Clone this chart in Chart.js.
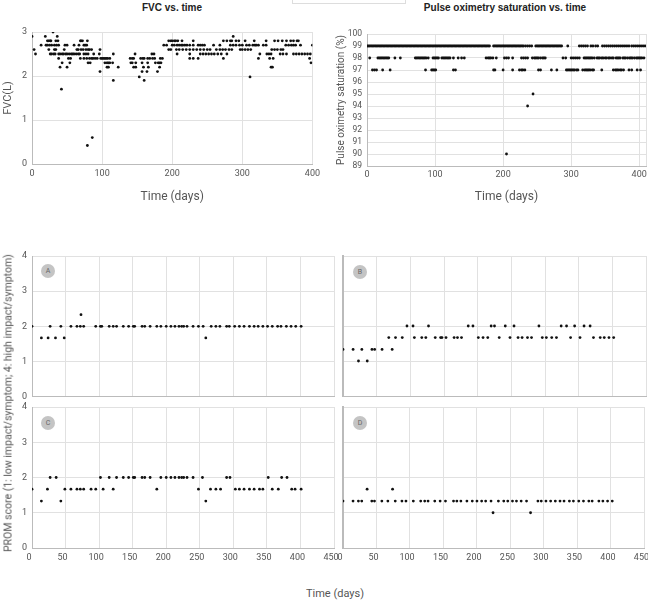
<!DOCTYPE html>
<html>
<head>
<meta charset="utf-8">
<script src="https://cdn.jsdelivr.net/npm/chart.js@4.4.1/dist/chart.umd.min.js"></script>
<style>
  html, body { margin: 0; padding: 0; background: #fff; width: 648px; height: 600px; overflow: hidden; position: relative; }
  canvas { position: absolute; }
  .title { position: absolute; font: bold 10px "Liberation Sans", Arial, sans-serif; color: #222; text-align: center; white-space: nowrap; }
  .lbl { position: absolute; font: 11px Roboto, "Liberation Sans", sans-serif; color: #555; white-space: nowrap; }
  .badge { position: absolute; width: 14px; height: 14px; border-radius: 50%; background: #c4c4c4; color: #666;
           font: 7px Roboto, sans-serif; line-height: 14px; text-align: center; }
</style>
</head>
<body>
<div style="position:absolute;left:292px;top:-1px;width:112px;height:3px;border:1px solid #ddd;"></div>
<div class="title" style="left:72px;top:2px;width:200px;">FVC vs. time</div>
<div class="title" style="left:405px;top:2px;width:200px;">Pulse oximetry saturation vs. time</div>

<canvas id="fvc" width="324" height="215" style="left:0;top:0"></canvas>
<canvas id="spo2" width="338" height="215" style="left:318px;top:0"></canvas>
<canvas id="pa" width="346" height="167" style="left:0;top:240px"></canvas>
<canvas id="pb" width="323" height="160" style="left:333px;top:240px"></canvas>
<canvas id="pc" width="346" height="186" style="left:0;top:392px"></canvas>
<canvas id="pd" width="323" height="186" style="left:333px;top:392px"></canvas>

<div class="badge" style="left:41px;top:264px;">A</div>
<div class="badge" style="left:353px;top:265px;">B</div>
<div class="badge" style="left:41px;top:416px;">C</div>
<div class="badge" style="left:353px;top:416px;">D</div>

<div class="lbl" style="left:8px;top:403px;font-size:10.5px;transform:translate(-50%,-50%) rotate(-90deg);">PROM score (1: low impact/symptom; 4: high impact/symptom)</div>
<div class="lbl" style="left:335px;top:593px;transform:translate(-50%,-50%);">Time (days)</div>

<script>
// FVC (L): days listed per measured level
const fvc300 = [30];
const fvc290 = [0, 19, 36, 287];
const fvc280 = [22, 24, 26, 27, 34, 37, 69, 70, 72, 79, 195, 198, 200, 203, 205, 208, 214, 230, 273, 278, 283, 285, 291, 295, 304, 317, 334, 346, 351, 357, 363, 369, 373, 378, 380];
const fvc270 = [13, 20, 22, 25, 28, 32, 35, 38, 47, 50, 60, 67, 74, 76, 78, 188, 192, 200, 203, 207, 210, 213, 215, 218, 221, 225, 230, 237, 240, 243, 246, 259, 268, 283, 287, 291, 296, 300, 306, 310, 315, 318, 320, 323, 330, 334, 362, 366, 370, 373, 376, 383, 400];
const fvc260 = [3, 24, 32, 34, 46, 64, 66, 70, 73, 77, 80, 82, 85, 97, 195, 198, 206, 210, 215, 220, 225, 230, 235, 240, 245, 250, 254, 263, 268, 272, 276, 281, 285, 297, 300, 304, 308, 312, 342, 346, 350, 355, 358];
const fvc250 = [5, 26, 28, 31, 33, 38, 40, 43, 45, 48, 50, 53, 56, 58, 60, 63, 66, 68, 74, 77, 80, 88, 96, 116, 147, 171, 174, 207, 225, 240, 244, 248, 252, 256, 260, 265, 270, 278, 325, 335, 338, 341, 354, 358, 363, 373, 377, 381, 385, 389, 393, 397];
const fvc240 = [38, 52, 55, 69, 74, 78, 82, 85, 87, 90, 93, 98, 100, 102, 104, 106, 108, 111, 140, 143, 145, 155, 158, 160, 165, 168, 172, 175, 183, 186, 225, 230, 237, 273, 323, 339, 344, 396];
const fvc230 = [43, 54, 80, 83, 104, 107, 109, 111, 115, 141, 143, 148, 157, 165, 176, 180, 182, 184, 398];
const fvc220 = [40, 50, 107, 109, 123, 145, 148, 159, 166, 182, 341, 343];
const fvc210 = [97, 157, 164, 179];
const fvc198 = [153, 311];
const fvc190 = [116, 160];
const fvc170 = [42];
const fvc060 = [86];
const fvc042 = [79];

// Pulse oximetry saturation (%): days per level, plus the low readings
const spo2At99 = [0, 2, 4, 6, 8, 10, 12, 14, 16, 18, 20, 22, 24, 26, 28, 30, 32, 34, 36, 38, 40, 42, 44, 46, 48, 50, 52, 54, 56, 58, 60, 62, 64, 66, 68, 70, 72, 74, 76, 78, 80, 82, 84, 86, 88, 90, 92, 94, 96, 98, 100, 102, 104, 106, 108, 110, 112, 114, 116, 118, 120, 122, 124, 126, 128, 130, 132, 134, 136, 138, 140, 142, 144, 146, 148, 150, 152, 154, 156, 158, 160, 162, 164, 166, 168, 170, 172, 174, 176, 178, 180,
  186, 188, 190, 192, 194, 196, 198, 200, 202, 204, 206, 208, 210, 212, 214, 216, 218, 220, 222, 224, 226, 228, 230,
  233, 236, 239, 242, 248, 250, 252, 254, 256, 258, 260, 262, 264, 266, 268, 270, 272, 274, 276, 278, 280, 282, 284, 286,
  295, 312, 315, 318, 321, 324, 329, 332, 336, 339, 346, 349, 352, 355, 358, 361, 364, 367, 370, 373, 376, 379, 382, 385, 389, 392, 395, 398, 401, 404, 407, 410];
const spo2At98 = [4, 16, 18, 20, 22, 24, 26, 28, 30, 32, 41, 49, 71, 73, 75, 77, 79, 81, 83, 85, 87, 90, 97, 99, 101, 103, 105, 110, 112, 114, 116, 118, 120, 122, 127, 134, 139, 143, 175, 178, 180, 182, 185, 190, 202, 205, 208, 214, 227, 230, 233, 236, 243, 246, 248, 250, 252, 255, 258, 260, 262, 288, 292, 300, 303, 306, 309, 312, 319, 321, 323, 325, 327, 329, 331, 334, 338, 340, 342, 345, 347, 350, 352, 355, 357, 360, 362, 366, 368, 370, 372, 376, 378, 380, 383, 386, 388, 390, 393, 396, 398, 400, 402, 404, 407];
const spo2At97 = [8, 11, 14, 23, 34, 86, 95, 97, 99, 101, 127, 130, 186, 188, 200, 214, 224, 227, 229, 232, 252, 255, 271, 279, 293, 295, 297, 299, 301, 303, 305, 308, 310, 317, 320, 322, 324, 326, 328, 331, 333, 345, 362, 365, 367, 369, 372, 374, 377, 385, 389, 397, 402];
const spo2Low = [[205, 90], [236, 94], [244, 95]];
const spo2XTicks = [0, 100, 200, 300, 400, 410];

// PROM scores per panel, days per score level
const promA200 = [0, 27, 43, 58, 67, 72, 77, 95, 102, 104, 115, 121, 126, 136, 144, 151, 153, 164, 168, 176, 186, 192, 200, 207, 213, 219, 223, 226, 231, 240, 248, 255, 267, 274, 280, 290, 294, 302, 309, 316, 324, 331, 337, 344, 351, 358, 366, 371, 379, 386, 393, 401];
const promA167 = [14, 24, 35, 48, 259];
const promA233 = [73];

const promB200 = [95, 104, 127, 186, 193, 220, 225, 241, 254, 291, 324, 332, 344, 358, 367];
const promB167 = [68, 78, 88, 106, 117, 123, 137, 145, 147, 153, 165, 170, 176, 201, 208, 215, 232, 248, 260, 266, 274, 280, 296, 302, 310, 317, 338, 352, 372, 382, 388, 395, 402];
const promB133 = [0, 15, 28, 43, 47, 58, 73];
const promB100 = [23, 36];

const promC200 = [27, 36, 102, 115, 126, 136, 144, 151, 153, 164, 168, 176, 192, 200, 207, 213, 219, 223, 226, 231, 240, 254, 290, 295, 352, 372, 380];
const promC167 = [0, 23, 49, 58, 67, 72, 77, 88, 95, 106, 121, 186, 248, 266, 274, 281, 303, 309, 316, 324, 331, 339, 344, 358, 367, 387, 392, 401];
const promC133 = [14, 43, 259];

const promD167 = [36, 74];
const promD133 = [0, 15, 23, 28, 43, 47, 58, 67, 78, 88, 94, 105, 116, 122, 127, 137, 145, 153, 165, 170, 176, 185, 193, 200, 207, 213, 221, 232, 240, 246, 253, 259, 266, 274, 291, 296, 303, 310, 317, 324, 330, 338, 344, 352, 359, 367, 372, 382, 388, 395, 402];
const promD100 = [224, 280];

function levels(list) {
  const pts = [];
  list.forEach(([y, days]) => days.forEach(x => pts.push({ x, y })));
  return pts;
}

Chart.defaults.font.family = 'Roboto, "Liberation Sans", sans-serif';
Chart.defaults.color = '#555';

function scatter(id, points, o) {
  return new Chart(document.getElementById(id), {
    type: 'scatter',
    data: { datasets: [{ data: points, backgroundColor: '#111', borderWidth: 0, pointRadius: 1.4, pointHoverRadius: 1.4 }] },
    options: {
      responsive: false,
      animation: false,
      layout: { padding: o.pad },
      plugins: { legend: { display: false }, tooltip: { enabled: false } },
      scales: {
        x: {
          type: 'linear', min: o.xMin, max: o.xMax,
          afterFit: s => { s.height = o.xh; },
          afterBuildTicks: o.xList ? (s => { s.ticks = o.xList.map(v => ({ value: v })); }) : undefined,
          grid: { color: '#e1e1e1', drawTicks: false },
          border: { color: '#bbb' },
          ticks: { display: o.xTicks, stepSize: o.xStep, padding: o.xPad || 4, font: { size: 9 }, autoSkip: false, maxRotation: 0,
                   labelOffset: o.xShift || 0,
                   callback: v => (o.xHide && o.xHide.includes(v)) ? '' : v },
          title: o.xTitle ? { display: true, text: o.xTitle, font: { size: 12 }, padding: { bottom: o.xTitlePad } } : { display: false }
        },
        y: {
          type: 'linear', min: o.yMin, max: o.yMax,
          afterFit: s => { s.width = o.yw; },
          grid: { color: '#e1e1e1', drawTicks: false },
          border: { color: '#bbb', width: o.yBorder || 1 },
          ticks: { display: o.yTicks, stepSize: 1, padding: 5, font: { size: o.yFont || 9 }, autoSkip: false },
          title: o.yTitle ? { display: true, text: o.yTitle, font: { size: o.yTitleSize || 11 }, padding: { top: o.yTitlePad } } : { display: false }
        }
      }
    }
  });
}

scatter('fvc', levels([[3.0, fvc300], [2.9, fvc290], [2.8, fvc280], [2.7, fvc270], [2.6, fvc260], [2.5, fvc250], [2.4, fvc240],
  [2.3, fvc230], [2.2, fvc220], [2.1, fvc210], [1.98, fvc198], [1.9, fvc190], [1.7, fvc170], [0.6, fvc060], [0.42, fvc042]]), {
  pad: { left: 0, top: 32, right: 11, bottom: 0 }, xh: 51, yw: 32,
  xMin: 0, xMax: 400, xStep: 100, xTicks: true, xPad: 4, xTitle: 'Time (days)', xTitlePad: 11,
  yMin: 0, yMax: 3, yTicks: true, yTitle: 'FVC(L)', yTitlePad: 1.5
});

scatter('spo2', levels([[99, spo2At99], [98, spo2At98], [97, spo2At97]]).concat(spo2Low.map(([x, y]) => ({ x, y }))), {
  pad: { left: 0, top: 34, right: 10, bottom: 0 }, xh: 49, yw: 49,
  xMin: 0, xMax: 410, xList: spo2XTicks, xTicks: true, xPad: 3, xHide: [410], xTitle: 'Time (days)', xTitlePad: 11,
  yMin: 89, yMax: 100, yTicks: true, yFont: 8.5, yTitle: 'Pulse oximetry saturation (%)', yTitleSize: 10, yTitlePad: 17
});

// shared settings for the four PROM panels
const prom = { xMin: 0, xMax: 450, xStep: 50, yMin: 0, yMax: 4, xShift: -3 };

scatter('pa', levels([[2.33, promA233], [2, promA200], [1.67, promA167]]), Object.assign({}, prom, {
  pad: { left: 0, top: 16, right: 12, bottom: 0 }, xh: 4, yw: 32, xTicks: false, yTicks: true
}));
scatter('pb', levels([[2, promB200], [1.67, promB167], [1.33, promB133], [1, promB100]]), Object.assign({}, prom, {
  pad: { left: 0, top: 16, right: 10, bottom: 0 }, xh: 4, yw: 10, xTicks: false, yTicks: false, yBorder: 2
}));
scatter('pc', levels([[2, promC200], [1.67, promC167], [1.33, promC133]]), Object.assign({}, prom, {
  pad: { left: 0, top: 15, right: 12, bottom: 0 }, xh: 30, yw: 32, xTicks: true, xPad: 4, yTicks: true
}));
scatter('pd', levels([[1.67, promD167], [1.33, promD133], [1, promD100]]), Object.assign({}, prom, {
  pad: { left: 0, top: 15, right: 10, bottom: 0 }, xh: 30, yw: 10, xTicks: true, xPad: 4, yTicks: false, yBorder: 2
}));
</script>
</body>
</html>
